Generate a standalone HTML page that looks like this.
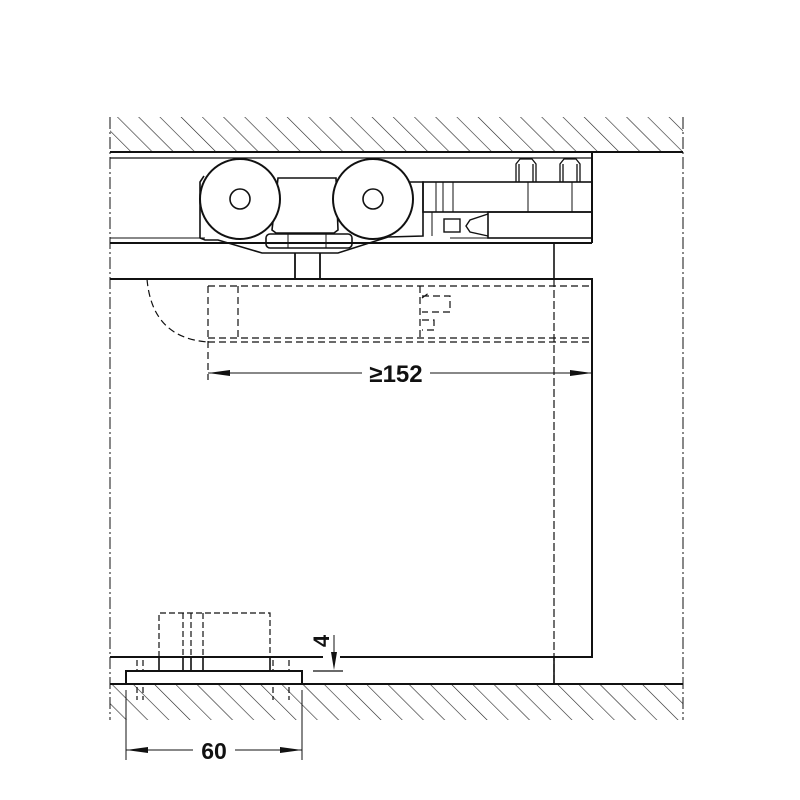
<!DOCTYPE html>
<html><head><style>html,body{margin:0;padding:0;background:#fff}svg{display:block}</style></head>
<body>
<svg width="800" height="800" viewBox="0 0 800 800" xmlns="http://www.w3.org/2000/svg">
<defs>
<pattern id="h" patternUnits="userSpaceOnUse" width="15" height="15" patternTransform="rotate(-45)">
<line x1="0" y1="0" x2="0" y2="15" stroke="#222" stroke-width="1.2"/>
</pattern>
</defs>
<rect x="110" y="117" width="573" height="35" fill="url(#h)"/>
<rect x="110" y="684" width="573" height="36" fill="url(#h)"/>
<g stroke="#111" fill="none">
<line x1="110" y1="152" x2="683" y2="152" stroke-width="2"/>
<line x1="110" y1="684" x2="683" y2="684" stroke-width="2"/>
<line x1="110" y1="117" x2="110" y2="720" stroke-width="1" stroke-dasharray="12,3,2,3"/>
<line x1="683" y1="117" x2="683" y2="720" stroke-width="1" stroke-dasharray="12,3,2,3"/>
<line x1="592" y1="152" x2="592" y2="243" stroke-width="2"/>
<line x1="110" y1="158" x2="592" y2="158" stroke-width="1.2"/>
<line x1="110" y1="243" x2="592" y2="243" stroke-width="2"/>
<line x1="110" y1="238" x2="205" y2="238" stroke-width="1"/>
<line x1="450" y1="238" x2="488" y2="238" stroke-width="1"/>
<path d="M204,176 L200,182 L200,238 L205,240 L218,240 L262,253 L338,253 L388,237 L423,236 L423,182 L410,182" stroke-width="1.6"/>
<rect x="266" y="234" width="86" height="14" rx="4" stroke-width="1.6"/>
<line x1="288" y1="234" x2="288" y2="248" stroke-width="1"/>
<line x1="326" y1="234" x2="326" y2="248" stroke-width="1"/>
<path d="M278,178 L336,178 L338,230 L334,233 L276,233 L272,230 Z" stroke-width="1.6"/>
<circle cx="240" cy="199" r="40" fill="#fff" stroke-width="2"/>
<circle cx="240" cy="199" r="10" stroke-width="1.6"/>
<circle cx="373" cy="199" r="40" fill="#fff" stroke-width="2"/>
<circle cx="373" cy="199" r="10" stroke-width="1.6"/>
<rect x="423" y="182" width="169" height="30" stroke-width="1.6"/>
<line x1="436" y1="182" x2="436" y2="212" stroke-width="1"/>
<line x1="443" y1="182" x2="443" y2="212" stroke-width="1"/>
<line x1="453" y1="182" x2="453" y2="212" stroke-width="1"/>
<rect x="488" y="212" width="104" height="26" stroke-width="1.6"/>
<rect x="444" y="219" width="16" height="13" stroke-width="1.4"/>
<path d="M488,214 L470,220 L466,226 L470,232 L488,236" stroke-width="1.4"/>
<line x1="432" y1="212" x2="432" y2="236" stroke-width="1"/>
<path d="M516,182 L516,164 L520,159 L532,159 L536,164 L536,182 M519,164 L519,182 M533,164 L533,182" stroke-width="1.3"/>
<path d="M560,182 L560,164 L564,159 L576,159 L580,164 L580,182 M563,164 L563,182 M577,164 L577,182" stroke-width="1.3"/>
<line x1="528" y1="182" x2="528" y2="212" stroke-width="1"/>
<line x1="572" y1="182" x2="572" y2="212" stroke-width="1"/>
<line x1="295" y1="253" x2="295" y2="279" stroke-width="1.8"/>
<line x1="320" y1="253" x2="320" y2="279" stroke-width="1.8"/>
<line x1="554" y1="243" x2="554" y2="279" stroke-width="1.6"/>
<path d="M110,279 L592,279 L592,657 L340,657 M323,657 L110,657" stroke-width="2"/>
<line x1="554" y1="279" x2="554" y2="684" stroke-width="1.2" stroke-dasharray="8,3"/>
<line x1="554" y1="657" x2="554" y2="684" stroke-width="1.6"/>
<g stroke-width="1.2" stroke-dasharray="7,4">
<line x1="208" y1="286" x2="592" y2="286"/>
<line x1="208" y1="338" x2="592" y2="338"/>
<line x1="208" y1="342" x2="592" y2="342"/>
<line x1="208" y1="286" x2="208" y2="380"/>
<line x1="238" y1="286" x2="238" y2="338"/>
<line x1="420" y1="286" x2="420" y2="338"/>
<path d="M147,279 Q152,338 208,342"/>
<path d="M422,298 L430,292 M422,296 L450,296 L450,312 L422,312 M422,320 L434,320 L434,330 L422,330"/>
</g>
<line x1="208" y1="373" x2="362" y2="373" stroke-width="1"/>
<line x1="430" y1="373" x2="592" y2="373" stroke-width="1"/>
<g stroke-width="1.2" stroke-dasharray="6,3">
<path d="M159,657 L159,613 L270,613 L270,657"/>
<line x1="183" y1="613" x2="183" y2="657"/>
<line x1="191" y1="613" x2="191" y2="657"/>
<line x1="203" y1="613" x2="203" y2="657"/>
<line x1="143" y1="660" x2="143" y2="700"/>
<line x1="273" y1="660" x2="273" y2="700"/>
<line x1="289" y1="660" x2="289" y2="700"/>
<line x1="137" y1="660" x2="137" y2="700"/>
</g>
<g stroke-width="1.6">
<line x1="159" y1="657" x2="159" y2="671"/>
<line x1="183" y1="657" x2="183" y2="671"/>
<line x1="191" y1="657" x2="191" y2="671"/>
<line x1="203" y1="657" x2="203" y2="671"/>
<line x1="270" y1="657" x2="270" y2="671"/>
</g>
<rect x="126" y="671" width="176" height="13" fill="#fff" stroke-width="2"/>
<line x1="334" y1="635" x2="334" y2="660" stroke-width="1"/>
<line x1="313" y1="671" x2="343" y2="671" stroke-width="1.2"/>
<line x1="126" y1="690" x2="126" y2="760" stroke-width="1"/>
<line x1="302" y1="690" x2="302" y2="760" stroke-width="1"/>
<line x1="126" y1="750" x2="193" y2="750" stroke-width="1"/>
<line x1="235" y1="750" x2="302" y2="750" stroke-width="1"/>
</g>
<g fill="#111">
<polygon points="208,373 230,370 230,376"/>
<polygon points="592,373 570,370 570,376"/>
<polygon points="126,750 148,747 148,753"/>
<polygon points="302,750 280,747 280,753"/>
<polygon points="334,670 331,652 337,652"/>
</g>
<g font-family="Liberation Sans, sans-serif" font-weight="bold" fill="#111">
<text x="396" y="382" font-size="24" text-anchor="middle">≥152</text>
<text x="214" y="759" font-size="23" text-anchor="middle">60</text>
<text x="0" y="0" font-size="22" text-anchor="middle" transform="translate(329,641) rotate(-90)">4</text>
</g>
</svg>
</body></html>
